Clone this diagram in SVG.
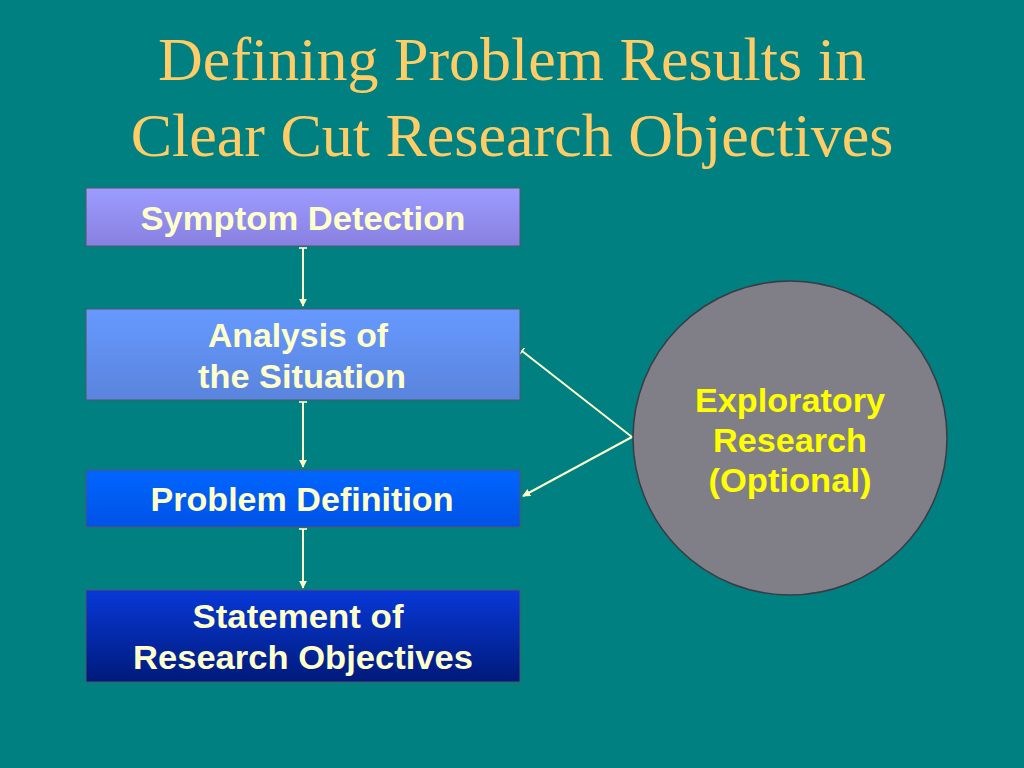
<svg xmlns="http://www.w3.org/2000/svg" width="1024" height="768" viewBox="0 0 1024 768">
<defs>
<linearGradient id="g1" x1="0" y1="0" x2="0" y2="1"><stop offset="0" stop-color="#9c9cff"/><stop offset="1" stop-color="#8880e0"/></linearGradient>
<linearGradient id="g2" x1="0" y1="0" x2="0" y2="1"><stop offset="0" stop-color="#6699ff"/><stop offset="1" stop-color="#5a84dc"/></linearGradient>
<linearGradient id="g3" x1="0" y1="0" x2="0" y2="1"><stop offset="0" stop-color="#0066ff"/><stop offset="1" stop-color="#0052e6"/></linearGradient>
<linearGradient id="g4" x1="0" y1="0" x2="0" y2="1"><stop offset="0" stop-color="#0838d8"/><stop offset="1" stop-color="#001a7a"/></linearGradient>
<marker id="ah" viewBox="0 0 10 10" refX="9" refY="5" markerWidth="4" markerHeight="4" orient="auto"><path d="M0,0 L10,5 L0,10 z" fill="#ffffcc"/></marker>
<marker id="tk" viewBox="0 0 10 10" refX="1" refY="5" markerWidth="4" markerHeight="4" orient="auto"><path d="M0,0 L2,0 L2,10 L0,10 z" fill="#ffffcc"/></marker>
</defs>
<style>
.box{stroke:#556;stroke-width:1}
.t{font-family:"Liberation Sans",Arial,sans-serif;font-weight:bold;font-size:33px;fill:#ffffcc;text-anchor:middle}
.y{fill:#ffff00}
.c{stroke:#ffffcc;stroke-width:2;fill:none}
</style>
<rect width="1024" height="768" fill="#008080"/>
<text font-family="Liberation Serif,Times New Roman,serif" font-size="62" fill="#ffcc66" text-anchor="middle"><tspan x="512" y="80">Defining Problem Results in</tspan><tspan x="512" y="156">Clear Cut Research Objectives</tspan></text>
<g id="connectors">
<line class="c" x1="303" y1="248" x2="303" y2="306" marker-start="url(#tk)" marker-end="url(#ah)"/>
<line class="c" x1="303" y1="402" x2="303" y2="467" marker-start="url(#tk)" marker-end="url(#ah)"/>
<line class="c" x1="303" y1="529" x2="303" y2="588" marker-start="url(#tk)" marker-end="url(#ah)"/>
<polyline class="c" points="522,351 632,437 523,496" marker-start="url(#tk)" marker-end="url(#ah)"/>
</g>
<g id="n1"><rect class="box" x="86" y="188" width="434" height="58" fill="url(#g1)"/><text class="t" x="303" y="230" textLength="325" lengthAdjust="spacingAndGlyphs">Symptom Detection</text></g>
<g id="n2"><rect class="box" x="86" y="309" width="434" height="91" fill="url(#g2)"/><text class="t" x="298" y="347" textLength="180" lengthAdjust="spacingAndGlyphs">Analysis of</text><text class="t" x="302" y="388" textLength="208" lengthAdjust="spacingAndGlyphs">the Situation</text></g>
<g id="n3"><rect class="box" x="86" y="470" width="434" height="57" fill="url(#g3)"/><text class="t" x="302" y="511" textLength="303" lengthAdjust="spacingAndGlyphs">Problem Definition</text></g>
<g id="n4"><rect class="box" x="86" y="590" width="434" height="92" fill="url(#g4)"/><text class="t" x="298" y="628" textLength="211" lengthAdjust="spacingAndGlyphs">Statement of</text><text class="t" x="303" y="669" textLength="340" lengthAdjust="spacingAndGlyphs">Research Objectives</text></g>
<g id="n5"><circle cx="790" cy="438" r="157" fill="#807f88" stroke="#3a3a44" stroke-width="1.5"/>
<text class="t y" x="790" y="412" textLength="190" lengthAdjust="spacingAndGlyphs">Exploratory</text><text class="t y" x="790" y="452" textLength="154" lengthAdjust="spacingAndGlyphs">Research</text><text class="t y" x="790" y="492" textLength="163" lengthAdjust="spacingAndGlyphs">(Optional)</text></g>
</svg>
